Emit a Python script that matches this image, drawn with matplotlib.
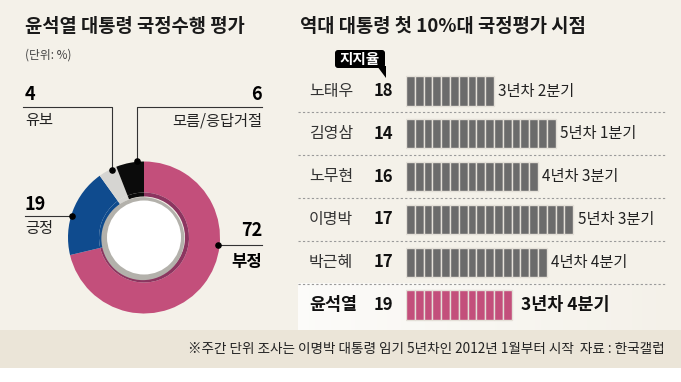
import numpy as np
import matplotlib
matplotlib.use('Agg')
import matplotlib.pyplot as plt
import matplotlib.transforms as mtransforms
from matplotlib.patches import Rectangle, FancyBboxPatch, Polygon, Circle

plt.rcParams['font.family'] = ['Noto Sans CJK KR', 'DejaVu Sans']

# 윤석열 대통령 국정수행 평가 (단위: %)
pie_labels = ['부정', '긍정', '유보', '모름/응답거절']
pie_values = [72, 19, 4, 6]
pie_colors = ['#c34f7b', '#0f4b8e', '#d6d5d2', '#0b0b0b']
pie_shade = ['#8c3560', '#0f4b8e', '#d6d5d2', '#0b0b0b']

# 역대 대통령 첫 10%대 국정평가 시점
presidents = ['노태우', '김영삼', '노무현', '이명박', '박근혜', '윤석열']
approval = [18, 14, 16, 17, 17, 19]
quarters = [10, 17, 15, 19, 16, 12]  # 임기 몇 번째 분기인지 (막대 칸 수)
period_labels = ['3년차 2분기', '5년차 1분기', '4년차 3분기',
                 '5년차 3분기', '4년차 4분기', '3년차 4분기']

note = '※주간 단위 조사는 이명박 대통령 임기 5년차인 2012년 1월부터 시작  자료 : 한국갤럽'

W, H = 681, 382
BG = '#f4f1e9'
fig = plt.figure(figsize=(W / 100, H / 100), dpi=100)
fig.patch.set_facecolor(BG)


def px_axes(z):
    ax = fig.add_axes([0, 0, 1, 1], zorder=z)
    ax.set_xlim(0, W)
    ax.set_ylim(H, 0)
    ax.axis('off')
    return ax


# 배경 (하단 출처 띠, 윤석열 행 강조)
bg = px_axes(0)
bg.add_patch(Rectangle((0, 330), W, 38, color='#ebe5d8', lw=0))
bg.add_patch(Rectangle((0, 368), W, 14, color='white', lw=0))
grad = np.ones((1, 256, 4))
grad[0, :, 3] = np.linspace(0.75, 0.0, 256)
bg.imshow(grad, extent=(298, W, 330, 283), aspect='auto', zorder=1)
bg.set_xlim(0, W)
bg.set_ylim(H, 0)

# 도넛 차트
cx, cy, R = 144, 237.5, 76
ax_pie = fig.add_axes([(cx - R) / W, (H - cy - R) / H, 2 * R / W, 2 * R / H], zorder=1)
ax_pie.pie(pie_values, colors=pie_colors, startangle=90, counterclock=False,
           radius=1, wedgeprops=dict(width=1 - 45 / R, linewidth=0))
ax_pie.pie(pie_values, colors=pie_shade, startangle=90, counterclock=False,
           radius=45 / R, wedgeprops=dict(width=4 / R, linewidth=0))
ax_pie.add_patch(Circle((-0.015, -0.015), 41.5 / R, color='#b3b1ab', lw=0))
ax_pie.add_patch(Circle((0, 0), 37 / R, color='white', lw=0))
ax_pie.set_xlim(-1, 1)
ax_pie.set_ylim(-1, 1)
ax_pie.axis('off')

# 막대 (분기 단위 칸)
seg, row_h, row0, x0 = 8.8, 42.8, 91, 406
ncols = 31
ax_bar = fig.add_axes([x0 / W, (H - (row0 - row_h / 2 + 6 * row_h)) / H,
                       ncols * seg / W, 6 * row_h / H], zorder=1)
ax_bar.set_xlim(0, ncols)
ax_bar.set_ylim(5.5, -0.5)
ax_bar.axis('off')
for i, n in enumerate(quarters):
    last = i == len(quarters) - 1
    col = '#c34f7b' if last else '#6b6b6b'
    ax_bar.barh(i, np.ones(n), left=np.arange(n), height=0.68,
                color=col, edgecolor='#e4e0d8', linewidth=1.0)
    if last:
        ax_bar.text(n + 1.1, i, period_labels[i], va='center', fontsize=12.5,
                    weight='bold', color='#111')
    else:
        ax_bar.text(n + 0.5, i, period_labels[i], va='center', fontsize=11,
                    color='#222')

# 글자, 지시선
top = px_axes(2)
trans = mtransforms.blended_transform_factory(top.transData, ax_bar.transData)

top.text(25, 27, '윤석열 대통령 국정수행 평가', fontsize=13.5, weight='bold',
         va='center', color='#1a1a1a')
top.text(25, 55, '(단위: %)', fontsize=8.5, va='center', color='#444')
top.text(300, 27, '역대 대통령 첫 10%대 국정평가 시점', fontsize=13.5,
         weight='bold', va='center', color='#1a1a1a')

lc = '#333333'
# 유보
top.text(25, 95, str(pie_values[2]), fontsize=13, weight='bold', va='center')
top.text(25, 121, pie_labels[2], fontsize=11, va='center', color='#222')
top.plot([23, 112, 112], [107, 107, 170], color=lc, lw=0.8)
# 모름/응답거절
top.text(262, 95, str(pie_values[3]), fontsize=13, weight='bold', va='center', ha='right')
top.text(262, 121, pie_labels[3], fontsize=11, va='center', ha='right', color='#222')
top.plot([262, 137, 137], [107, 107, 161], color=lc, lw=0.8)
# 긍정
top.text(25, 205, str(pie_values[1]), fontsize=13, weight='bold', va='center')
top.text(25, 228, pie_labels[1], fontsize=11, va='center', color='#222')
top.plot([25, 72], [216, 216], color=lc, lw=0.8)
# 부정
top.text(262, 231, str(pie_values[0]), fontsize=13, weight='bold', va='center', ha='right')
top.text(262, 262, pie_labels[0], fontsize=12, weight='bold', va='center', ha='right')
top.plot([218, 262], [245, 245], color=lc, lw=0.8)
top.scatter([112, 137, 72, 218], [170, 161, 216, 245], s=14, color='black', zorder=3)

# 지지율 말풍선
top.add_patch(FancyBboxPatch((335, 50), 50, 18,
                             boxstyle='round,pad=0,rounding_size=3',
                             fc='black', ec='none'))
top.add_patch(Polygon([(377, 66), (385.5, 66), (385.5, 78)], closed=True,
                      fc='black', ec='none'))
top.text(360, 59, '지지율', fontsize=10.5, weight='bold', color='white',
         ha='center', va='center')

for i, (name, v) in enumerate(zip(presidents, approval)):
    last = i == len(presidents) - 1
    top.text(309, i, name, transform=trans, va='center', fontsize=12.5 if last else 11.5,
             weight='bold' if last else 'normal', color='#111' if last else '#333')
    top.text(393, i, str(v), transform=trans, va='center', ha='right',
             fontsize=12, weight='bold', color='#111')

for i in range(len(presidents) - 1):
    top.plot([298, 665], [i + 0.5, i + 0.5], transform=trans, color='#9a9a9a',
             lw=0.8, ls=(0, (2, 2)))

top.text(665, 349, note, fontsize=9.8, ha='right', va='center', color='#222')

fig.savefig('out.png', dpi=100, facecolor=fig.get_facecolor())
